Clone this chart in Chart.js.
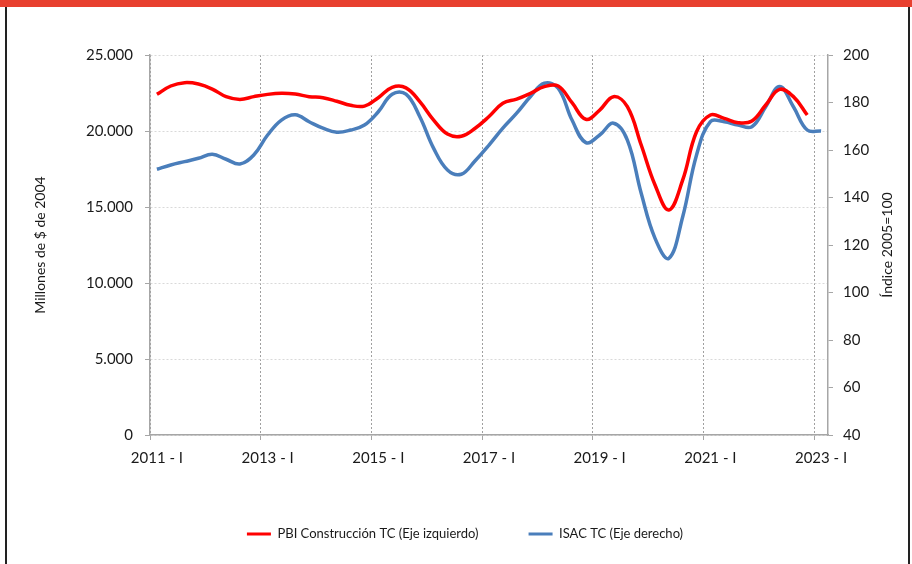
<!DOCTYPE html>
<html lang="es">
<head>
    <meta charset="UTF-8">
    <title>PBI Construcción e ISAC</title>
    <script src="https://cdn.jsdelivr.net/npm/chart.js"></script>
    <style>
        html, body {
            margin: 0;
            padding: 0;
            background: #fff;
        }
        .frame {
            position: relative;
            width: 912px;
            height: 564px;
            overflow: hidden;
        }
        .topbar {
            position: absolute;
            left: 0; top: 0;
            width: 912px; height: 7px;
            background: #e8402f;
        }
        .side {
            position: absolute;
            top: 7px;
            width: 2px;
            height: 557px;
            background: #222;
        }
        canvas {
            position: absolute;
            left: 0; top: 0;
        }
    </style>
</head>
<body>
<div class="frame">
    <canvas id="chart" width="912" height="564"></canvas>
    <div class="topbar"></div>
    <div class="side" style="left:5px"></div>
    <div class="side" style="left:908px"></div>
</div>

<script>
    // categorias trimestrales
    const years = [2011, 2012, 2013, 2014, 2015, 2016, 2017, 2018, 2019, 2020, 2021, 2022, 2023];
    const romanQ = ['I', 'II', 'III', 'IV'];
    const quarters = [];
    years.forEach(y => romanQ.forEach(q => quarters.push(y + ' - ' + q)));
    quarters.length = 49; // hasta 2023 - I

    // PBI Construcción TC, millones de $ de 2004 (eje izquierdo)
    const pbiConstruccion = [
        22410, 22960, 23180, 23090, 22760, 22260, 22080, 22260,
        22410, 22480, 22430, 22260, 22190, 21960, 21690, 21640,
        22190, 22870, 22840, 21930, 20720, 19800, 19660, 20180,
        20950, 21820, 22100, 22480, 22920, 22960, 21860, 20770,
        21380, 22260, 21600, 19080, 16450, 14800, 16780, 19950,
        21050, 20830, 20550, 20660, 21710, 22740, 22260, 21050
    ];

    // ISAC TC, índice 2005=100 (eje derecho)
    const isac = [
        151.9, 153.7, 155.1, 156.5, 158.2, 156.1, 154.1, 157.9,
        166.3, 172.6, 174.8, 171.9, 169.2, 167.5, 168.4, 170.5,
        176.1, 183.5, 183.5, 174.0, 160.7, 151.6, 149.8, 155.5,
        162.1, 169.2, 175.5, 182.5, 188.1, 186.0, 172.6, 163.1,
        166.3, 171.3, 164.2, 141.8, 122.8, 114.4, 131.9, 157.9,
        171.9, 171.9, 170.5, 169.8, 178.2, 186.7, 178.2, 168.4,
        168.0
    ];

    const leftTitle = 'Millones de $ de 2004';
    const rightTitle = 'Índice 2005=100';
    const labelEvery = 8;

    const FONT = 'Lato, "Open Sans", sans-serif';
    const TXT = '#1a1a1a';
    const AXIS = '#a6a6a6';

    function miles(v) {
        return String(v).replace(/\B(?=(\d{3})+(?!\d))/g, '.');
    }

    // titulo del eje derecho, leido de abajo hacia arriba como en el original
    const rightTitlePlugin = {
        id: 'rightTitle',
        afterDraw(chart) {
            const s = chart.scales.y2;
            const ctx = chart.ctx;
            ctx.save();
            ctx.translate(887, (s.top + s.bottom) / 2);
            ctx.rotate(-Math.PI / 2);
            ctx.font = '14px ' + FONT;
            ctx.fillStyle = TXT;
            ctx.textAlign = 'center';
            ctx.textBaseline = 'middle';
            ctx.fillText(rightTitle, 0, 0);
            ctx.restore();
        }
    };

    const ctx = document.getElementById('chart').getContext('2d');
    new Chart(ctx, {
        type: 'line',
        data: {
            labels: quarters,
            datasets: [
                {
                    label: 'PBI Construcción TC (Eje izquierdo)',
                    data: pbiConstruccion,
                    borderColor: '#ff0000',
                    backgroundColor: '#ff0000',
                    borderWidth: 3.5,
                    pointRadius: 0,
                    tension: 0.4,
                    yAxisID: 'y'
                },
                {
                    label: 'ISAC TC (Eje derecho)',
                    data: isac,
                    borderColor: '#4a7ebb',
                    backgroundColor: '#4a7ebb',
                    borderWidth: 3.5,
                    pointRadius: 0,
                    tension: 0.4,
                    yAxisID: 'y2'
                }
            ]
        },
        options: {
            responsive: false,
            animation: false,
            layout: {
                padding: { left: 18, right: 0, top: 55, bottom: 13.5 }
            },
            plugins: {
                tooltip: { enabled: false },
                legend: {
                    position: 'bottom',
                    labels: {
                        boxWidth: 24,
                        boxHeight: 3,
                        padding: 50,
                        color: TXT,
                        font: { family: FONT, size: 13 },
                        generateLabels(chart) {
                            return Chart.defaults.plugins.legend.labels.generateLabels(chart)
                                .map(it => Object.assign(it, { lineWidth: 0 }));
                        }
                    }
                }
            },
            scales: {
                x: {
                    type: 'category',
                    offset: true,
                    grid: {
                        offset: true,
                        color: c => c.index % labelEvery === 0 ? '#a0a0a0' : 'rgba(0,0,0,0)',
                        tickColor: c => c.index % labelEvery === 0 ? AXIS : 'rgba(0,0,0,0)',
                        tickLength: 5,
                        lineWidth: 1
                    },
                    border: { color: AXIS, width: 1.5, dash: [2, 2] },
                    ticks: {
                        autoSkip: false,
                        maxRotation: 0,
                        padding: 9,
                        color: TXT,
                        font: { family: FONT, size: 15 },
                        callback(val, i) {
                            return i % labelEvery === 0 ? this.getLabelForValue(val) : '';
                        }
                    },
                    afterFit(s) { s.height = 42.5; }
                },
                y: {
                    position: 'left',
                    min: 0,
                    max: 25000,
                    grid: {
                        color: '#d9d9d9',
                        tickColor: AXIS,
                        tickLength: 5,
                        tickBorderDash: []
                    },
                    border: { color: AXIS, width: 1.5, dash: [2, 2] },
                    ticks: {
                        stepSize: 5000,
                        padding: 12,
                        color: TXT,
                        font: { family: FONT, size: 15 },
                        callback: v => miles(v)
                    },
                    title: {
                        display: true,
                        text: leftTitle,
                        color: TXT,
                        padding: { top: 14, bottom: 0 },
                        font: { family: FONT, size: 14 }
                    },
                    afterFit(s) { s.width = 132; }
                },
                y2: {
                    position: 'right',
                    min: 40,
                    max: 200,
                    grid: {
                        drawOnChartArea: false,
                        tickColor: AXIS,
                        tickLength: 5
                    },
                    border: { color: AXIS, width: 1.5 },
                    ticks: {
                        stepSize: 20,
                        padding: 10,
                        color: TXT,
                        font: { family: FONT, size: 15 }
                    },
                    afterFit(s) { s.width = 84; }
                }
            }
        },
        plugins: [rightTitlePlugin]
    });
</script>
</body>
</html>
